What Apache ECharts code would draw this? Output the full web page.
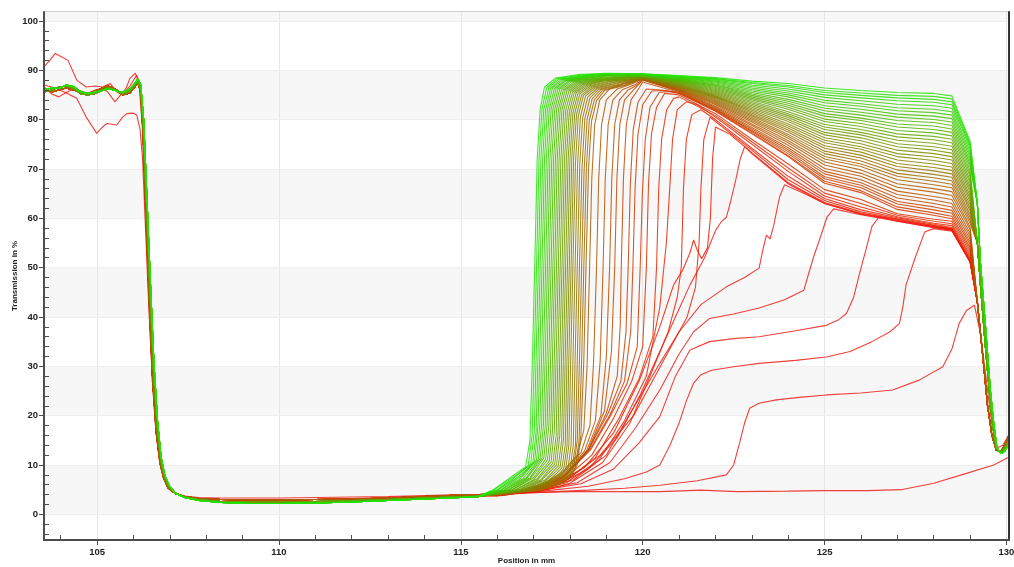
<!DOCTYPE html>
<html>
<head>
<meta charset="utf-8">
<title>Transmission profiles</title>
<script src="https://cdn.jsdelivr.net/npm/echarts@6.0.0/dist/echarts.min.js"></script>
<style>
  html, body { margin: 0; padding: 0; background: #fff; }
  #main { width: 1014px; height: 567px; }
</style>
</head>
<body>
<div id="main"></div>
<script>
// axis ticks / labels
var xLabels = [105, 110, 115, 120, 125, 130]
var xMinor = [104, 106, 107, 108, 109, 111, 112, 113, 114, 116, 117, 118, 119, 121, 122, 123, 124, 126, 127, 128, 129]
var yLabels = [0, 10, 20, 30, 40, 50, 60, 70, 80, 90, 100]
var yMinor = [-4, -2, 2, 4, 6, 8, 12, 14, 16, 18, 22, 24, 26, 28, 32, 34, 36, 38, 42, 44, 46, 48,
  52, 54, 56, 58, 62, 64, 66, 68, 72, 74, 76, 78, 82, 84, 86, 88, 92, 94, 96, 98]
var bands = [[0, 10], [20, 30], [40, 50], [60, 70], [80, 90], [100, 101.8]]

// shared left part of the profiles (plateau, edge, floor)
var leftG = [[103.54, 86.0], [103.75, 86.4], [103.95, 86.3], [104.15, 87.0], [104.35, 86.7], [104.55, 85.6], [104.75, 85.3], [104.95, 85.6], [105.15, 85.9], [105.3, 86.3], [105.5, 85.9], [105.7, 85.5], [105.9, 86.2], [106.02, 87.2], [106.12, 88.2], [106.2, 87.0], [106.28, 80], [106.36, 66], [106.46, 48], [106.56, 31], [106.66, 19], [106.76, 11.5], [106.86, 8.0], [106.98, 5.8], [107.15, 4.3], [107.4, 3.4], [107.8, 2.8], [108.4, 2.4], [109.2, 2.2], [110, 2.2], [111, 2.3], [112, 2.5], [113, 2.8], [114, 3.1], [115, 3.4]]
var leftM = [[103.54, 85.6], [103.75, 86.0], [103.95, 86.6], [104.15, 86.8], [104.35, 86.4], [104.55, 85.2], [104.75, 85.0], [104.95, 85.3], [105.15, 86.0], [105.3, 86.5], [105.5, 86.0], [105.7, 85.2], [105.9, 85.8], [106.02, 86.8], [106.12, 88.0], [106.2, 86.2], [106.27, 79], [106.35, 64], [106.45, 46], [106.55, 29], [106.65, 18], [106.75, 11], [106.85, 7.8], [106.97, 5.6], [107.15, 4.3], [107.4, 3.5], [107.8, 3.0], [108.4, 2.6], [109.2, 2.5], [110, 2.5], [111, 2.6], [112, 2.8], [113, 3.0], [114, 3.3], [115, 3.6]]
var leftR = [[103.54, 86.3], [103.75, 85.6], [103.95, 86.0], [104.15, 86.4], [104.35, 86.0], [104.55, 85.6], [104.75, 85.0], [104.95, 85.8], [105.15, 86.4], [105.3, 86.8], [105.5, 86.2], [105.7, 85.0], [105.9, 85.4], [106.02, 86.4], [106.12, 87.6], [106.2, 85.5], [106.26, 78], [106.34, 62], [106.43, 44], [106.53, 27], [106.63, 16.5], [106.73, 10.5], [106.83, 7.4], [106.95, 5.4], [107.15, 4.2], [107.4, 3.6], [107.8, 3.2], [108.4, 3.0], [109.2, 2.9], [110, 2.9], [111, 3.0], [112, 3.1], [113, 3.3], [114, 3.6], [115, 3.9]]
var leftO1 = [[103.54, 90.7], [103.7, 92.0], [103.85, 93.4], [104.03, 92.7], [104.2, 92.0], [104.44, 88.0], [104.7, 86.6], [104.95, 86.8], [105.15, 86.6], [105.36, 87.3], [105.55, 85.6], [105.7, 85.0], [105.9, 86.8], [106.09, 89.0], [106.18, 86], [106.25, 78], [106.33, 62], [106.42, 44], [106.52, 27], [106.62, 16.5], [106.72, 10.5], [106.82, 7.4], [106.95, 5.2], [107.15, 4.2], [107.4, 3.7], [107.8, 3.4], [108.4, 3.3], [109.2, 3.3], [110, 3.3], [111, 3.4], [112, 3.5], [113, 3.6], [114, 3.8], [115, 4.0]]
var leftO2 = [[103.54, 87.0], [103.8, 86.5], [104.1, 85.6], [104.44, 84.3], [104.7, 80.5], [104.99, 77.2], [105.15, 78.5], [105.27, 79.2], [105.54, 78.9], [105.7, 80.5], [105.82, 81.2], [106.0, 81.3], [106.09, 80.9], [106.18, 78], [106.25, 72], [106.33, 58], [106.42, 42], [106.52, 27], [106.62, 16.5], [106.72, 10.5], [106.82, 7.4], [106.95, 5.4], [107.15, 4.2], [107.4, 3.6], [107.8, 3.2], [108.4, 3.0], [109.2, 2.9], [110, 2.9], [111, 3.0], [112, 3.1], [113, 3.3], [114, 3.6], [115, 3.9]]
var leftO3 = [[103.54, 86.6], [103.75, 85.2], [103.95, 84.6], [104.15, 85.5], [104.35, 86.2], [104.55, 85.8], [104.75, 85.4], [104.95, 86.0], [105.15, 86.4], [105.3, 85.5], [105.49, 83.6], [105.65, 85.0], [105.8, 86.4], [105.9, 88.3], [106.05, 89.4], [106.15, 87.5], [106.24, 79], [106.32, 63], [106.42, 45], [106.52, 28], [106.62, 17], [106.72, 10.8], [106.82, 7.5], [106.95, 5.4], [107.15, 4.2], [107.4, 3.6], [107.8, 3.2], [108.4, 3.0], [109.2, 3.0], [110, 3.0], [111, 3.0], [112, 3.2], [113, 3.4], [114, 3.6], [115, 3.9]]

// rising flank of each profile in the fan, green (first) to red (last)
var fanRise = [
  [[115.5, 3.7], [115.9, 5.0], [116.2, 6.6], [116.5, 8.2], [116.78, 9.6], [116.9, 15], [116.97, 32], [117.03, 50], [117.1, 72], [117.18, 82], [117.3, 86.6], [117.6, 88.4], [118.2, 89.1], [119, 89.4]],
  [[115.5, 3.7], [115.9, 4.9], [116.3, 6.8], [116.6, 8.4], [116.85, 9.8], [116.96, 16], [117.02, 32], [117.08, 50], [117.15, 72], [117.23, 82], [117.36, 86.5], [117.65, 88.3], [118.3, 89.0], [119, 89.3]],
  [[115.5, 3.7], [116.0, 5.0], [116.4, 7.0], [116.7, 8.8], [116.92, 10.2], [117.02, 17], [117.07, 32], [117.13, 50], [117.2, 72], [117.28, 82], [117.42, 86.5], [117.7, 88.2], [118.4, 88.9], [119, 89.2]],
  [[115.5, 3.7], [116.0, 4.9], [116.5, 7.2], [116.8, 9.0], [116.98, 10.5], [117.07, 17], [117.12, 32], [117.18, 50], [117.25, 72], [117.33, 82], [117.47, 86.4], [117.75, 88.1], [118.5, 88.9], [119, 89.2]],
  [[115.5, 3.6], [116.1, 5.0], [116.6, 7.4], [116.9, 9.6], [117.03, 10.8], [117.12, 18], [117.17, 32], [117.23, 50], [117.3, 72], [117.38, 82], [117.52, 86.4], [117.8, 88.0], [118.5, 88.8], [119, 89.2]],
  [[115.5, 3.6], [116.1, 4.9], [116.6, 7.0], [116.95, 9.8], [117.08, 11.0], [117.17, 18], [117.22, 32], [117.28, 50], [117.35, 72], [117.43, 82], [117.57, 86.3], [117.85, 87.9], [118.6, 88.8], [119, 89.1]],
  [[115.5, 3.6], [116.2, 5.0], [116.7, 7.2], [117.0, 9.8], [117.13, 11.2], [117.22, 18], [117.27, 32], [117.33, 50], [117.4, 72], [117.48, 82], [117.62, 86.3], [117.9, 87.9], [118.6, 88.7], [119, 89.1]],
  [[115.5, 3.6], [116.2, 4.9], [116.8, 7.4], [117.05, 9.9], [117.18, 11.3], [117.27, 18], [117.32, 32], [117.38, 50], [117.45, 72], [117.53, 82], [117.67, 86.2], [117.95, 87.8], [118.7, 88.6], [119, 89.0]],
  [[115.5, 3.6], [116.3, 5.0], [116.8, 7.2], [117.1, 10.0], [117.23, 11.4], [117.32, 18], [117.37, 32], [117.43, 50], [117.5, 72], [117.58, 82], [117.72, 86.2], [118.0, 87.8], [118.7, 88.6], [119, 89.0]],
  [[115.5, 3.6], [116.3, 4.9], [116.9, 7.4], [117.15, 10.0], [117.28, 11.4], [117.37, 18], [117.42, 32], [117.48, 50], [117.55, 72], [117.63, 82], [117.77, 86.1], [118.05, 87.7], [118.8, 88.5], [119, 88.9]],
  [[115.5, 3.6], [116.4, 5.0], [116.9, 7.2], [117.2, 9.8], [117.33, 11.2], [117.42, 18], [117.47, 32], [117.53, 50], [117.6, 72], [117.68, 82], [117.82, 86.0], [118.1, 87.6], [118.8, 88.4], [119, 88.8]],
  [[115.5, 3.6], [116.4, 4.9], [117.0, 7.4], [117.25, 9.8], [117.38, 11.0], [117.47, 17], [117.52, 32], [117.58, 50], [117.65, 72], [117.73, 82], [117.87, 86.0], [118.15, 87.5], [118.9, 88.4], [119.2, 88.7]],
  [[115.5, 3.6], [116.5, 5.0], [117.0, 7.0], [117.3, 9.6], [117.43, 10.8], [117.52, 17], [117.57, 32], [117.63, 50], [117.7, 72], [117.78, 82], [117.92, 85.9], [118.2, 87.4], [119, 88.4]],
  [[115.5, 3.6], [116.5, 4.9], [117.1, 7.2], [117.35, 9.5], [117.48, 10.6], [117.57, 17], [117.62, 32], [117.68, 50], [117.75, 72], [117.83, 82], [117.97, 85.8], [118.25, 87.3], [119, 88.3]],
  [[115.5, 3.6], [116.6, 5.0], [117.1, 6.9], [117.4, 9.3], [117.53, 10.4], [117.62, 16], [117.67, 32], [117.73, 50], [117.8, 72], [117.88, 81.8], [118.02, 85.7], [118.3, 87.2], [119, 88.2]],
  [[115.5, 3.6], [116.6, 4.9], [117.2, 7.0], [117.45, 9.2], [117.58, 10.2], [117.67, 16], [117.72, 32], [117.78, 50], [117.85, 72], [117.93, 81.6], [118.07, 85.6], [118.35, 87.1], [119, 88.1]],
  [[115.5, 3.6], [116.7, 5.0], [117.2, 6.8], [117.5, 9.0], [117.63, 10.0], [117.72, 16], [117.77, 32], [117.83, 50], [117.9, 72], [117.98, 81.5], [118.12, 85.5], [118.4, 87.0], [119, 88.0]],
  [[115.5, 3.6], [116.7, 4.9], [117.3, 6.9], [117.55, 8.8], [117.68, 9.8], [117.77, 15], [117.82, 32], [117.88, 50], [117.95, 72], [118.03, 81.4], [118.17, 85.4], [118.45, 86.9], [119, 87.9]],
  [[115.5, 3.6], [116.8, 5.0], [117.3, 6.6], [117.6, 8.6], [117.73, 9.6], [117.82, 15], [117.87, 32], [117.93, 50], [118.0, 72], [118.08, 81.3], [118.22, 85.3], [118.5, 86.8], [119.1, 87.8]],
  [[115.5, 3.6], [116.8, 4.9], [117.4, 6.8], [117.65, 8.4], [117.78, 9.4], [117.87, 14], [117.92, 32], [117.98, 50], [118.05, 72], [118.13, 81.2], [118.27, 85.2], [118.55, 86.7], [119.1, 87.7]],
  [[115.5, 3.7], [116.9, 5.0], [117.4, 6.6], [117.7, 8.2], [117.83, 9.2], [117.92, 14], [117.97, 32], [118.03, 50], [118.1, 72], [118.18, 81.0], [118.32, 85.0], [118.6, 86.6], [119.2, 87.6]],
  [[115.5, 3.7], [116.9, 4.9], [117.5, 6.6], [117.75, 8.0], [117.88, 9.0], [117.97, 14], [118.02, 31], [118.08, 50], [118.15, 71], [118.23, 80.8], [118.37, 84.9], [118.65, 86.5], [119.2, 87.5]],
  [[115.5, 3.7], [117.0, 5.0], [117.5, 6.4], [117.8, 7.8], [117.94, 9.0], [118.03, 14], [118.08, 31], [118.14, 50], [118.21, 71], [118.29, 80.6], [118.43, 84.8], [118.7, 86.4], [119.3, 87.4]],
  [[115.5, 3.7], [117.0, 4.9], [117.6, 6.4], [117.85, 7.6], [118.0, 9.0], [118.09, 14], [118.14, 31], [118.2, 50], [118.27, 71], [118.35, 80.4], [118.49, 84.6], [118.75, 86.3], [119.3, 87.3]],
  [[115.5, 3.7], [117.1, 5.0], [117.6, 6.2], [117.9, 7.6], [118.05, 9.2], [118.15, 14], [118.2, 31], [118.26, 50], [118.33, 70], [118.41, 80.2], [118.55, 84.4], [118.8, 86.2], [119.4, 87.2]],
  [[115.5, 3.7], [117.1, 4.9], [117.7, 6.2], [117.95, 7.6], [118.1, 9.4], [118.2, 15], [118.26, 31], [118.32, 50], [118.39, 70], [118.47, 80.0], [118.61, 84.2], [118.85, 86.1], [119.4, 87.1]],
  [[115.5, 3.7], [117.2, 5.0], [117.7, 6.2], [118.0, 7.8], [118.15, 9.6], [118.25, 15], [118.32, 31], [118.38, 50], [118.45, 70], [118.53, 79.8], [118.67, 84.0], [118.9, 86.0], [119.5, 87.0]],
  [[115.5, 3.7], [117.2, 4.9], [117.8, 6.4], [118.05, 8.0], [118.2, 10.0], [118.3, 16], [118.38, 31], [118.44, 50], [118.51, 70], [118.59, 79.6], [118.73, 83.8], [118.95, 85.9], [119.5, 86.9]],
  [[115.5, 3.8], [116.5, 4.6], [117.3, 6.3], [117.8, 8.6], [118.2, 12], [118.38, 17], [118.47, 30], [118.54, 50], [118.6, 68], [118.68, 79], [118.82, 84], [119.1, 86.3], [119.5, 87.3]],
  [[115.5, 3.8], [116.5, 4.5], [117.3, 6.1], [117.85, 8.6], [118.3, 12.5], [118.55, 18], [118.65, 31], [118.73, 50], [118.79, 68], [118.87, 79], [119.0, 84], [119.3, 86.2], [119.7, 87.2]],
  [[115.5, 3.8], [116.5, 4.4], [117.3, 6.0], [117.9, 8.5], [118.4, 12.8], [118.7, 19], [118.83, 31], [118.91, 50], [118.97, 68], [119.05, 79], [119.18, 84], [119.45, 86.1], [119.8, 87.1]],
  [[115.5, 3.8], [116.4, 4.3], [117.3, 5.9], [117.9, 8.2], [118.45, 12.8], [118.85, 20], [119.0, 32], [119.09, 50], [119.15, 68], [119.23, 79], [119.36, 84], [119.6, 86.0], [119.85, 87.0]],
  [[115.5, 3.8], [116.4, 4.2], [117.2, 5.6], [117.9, 8.0], [118.5, 13], [118.95, 21], [119.14, 33], [119.23, 50], [119.29, 68], [119.37, 79], [119.5, 84], [119.75, 86.0]],
  [[115.5, 3.9], [116.3, 4.1], [117.2, 5.5], [117.85, 7.7], [118.5, 13], [119.0, 20.5], [119.3, 28], [119.38, 38], [119.41, 50], [119.47, 68], [119.55, 79], [119.68, 84], [119.9, 86.4]],
  [[115.5, 3.9], [116.3, 4.0], [117.1, 5.3], [117.8, 7.4], [118.5, 13], [119.05, 20.5], [119.4, 27], [119.54, 37], [119.6, 50], [119.66, 67], [119.74, 78], [119.87, 83.5], [120.1, 86.2], [120.5, 86.0]],
  [[115.5, 3.9], [116.2, 4.0], [117.1, 5.2], [117.8, 7.2], [118.55, 13.2], [119.1, 20.2], [119.5, 27], [119.67, 37], [119.73, 50], [119.79, 66], [119.87, 77], [120.0, 83], [120.25, 85.8], [120.6, 85.9]],
  [[115.5, 3.8], [116.1, 3.9], [117.0, 5.0], [117.73, 7.0], [118.56, 13], [119.1, 19.8], [119.57, 26.5], [119.85, 34], [119.93, 50], [119.99, 65], [120.07, 76], [120.2, 82.5], [120.45, 85.5], [120.7, 85.7]],
  [[115.5, 3.8], [116.1, 3.8], [117.0, 4.9], [117.8, 6.8], [118.6, 12], [119.2, 19.5], [119.7, 27], [120.0, 34], [120.1, 50], [120.16, 67], [120.24, 77], [120.38, 82.5], [120.6, 85.3]],
  [[115.5, 3.8], [116.0, 3.8], [117.0, 4.8], [117.85, 6.6], [118.7, 11.5], [119.35, 19.5], [119.9, 27.5], [120.28, 36], [120.38, 50], [120.44, 66], [120.52, 76], [120.66, 82], [120.85, 84.3]],
  [[115.5, 3.8], [116.0, 3.8], [117.0, 4.7], [117.9, 6.4], [118.8, 11], [119.5, 19], [120.1, 28], [120.47, 42], [120.65, 55], [120.74, 65.7], [120.82, 76], [120.95, 82], [121.2, 83.6], [121.5, 83.0]],
  [[115.5, 3.8], [116.0, 3.8], [117.2, 4.7], [118.0, 6.3], [118.9, 10.5], [119.65, 18.5], [120.2, 28], [120.7, 37], [120.95, 44], [121.06, 50], [121.12, 66], [121.2, 76], [121.35, 81], [121.6, 82]],
  [[115.5, 3.8], [116.63, 4.6], [117.92, 7.0], [118.83, 12], [119.75, 20], [120.48, 29.9], [121.22, 40], [121.45, 46], [121.55, 55], [121.6, 66], [121.68, 76], [121.85, 80.5]],
  [[115.5, 3.9], [116.5, 4.4], [117.5, 5.8], [118.4, 9.5], [119.2, 16.5], [119.9, 27], [120.47, 38], [120.85, 46.5], [121.1, 49.5], [121.3, 53], [121.4, 55.6], [121.5, 53.5], [121.62, 51.8], [121.78, 54], [121.86, 60], [121.92, 72], [122.0, 78.5], [122.4, 77]]
]

// plateau of each fan profile, read at these positions (null: still rising)
var tailX = [120, 121, 122, 123, 124, 125, 126, 127, 128, 128.5, 129]
var fanTail = [
  [89.3, 88.9, 88.5, 87.8, 87.3, 86.4, 85.9, 85.5, 85.3, 84.8, 75.6],
  [89.3, 88.8, 88.3, 87.5, 86.9, 85.9, 85.4, 84.9, 84.7, 84.2, 75.2],
  [89.2, 88.7, 88.2, 87.3, 86.6, 85.5, 84.9, 84.4, 84.1, 83.6, 74.7],
  [89.2, 88.6, 88.0, 87.0, 86.2, 85.0, 84.4, 83.8, 83.5, 83.0, 74.2],
  [89.2, 88.5, 87.8, 86.7, 85.8, 84.5, 83.8, 83.1, 82.8, 82.3, 73.5],
  [89.1, 88.4, 87.6, 86.4, 85.4, 83.9, 83.2, 82.4, 82.1, 81.6, 72.9],
  [89.1, 88.3, 87.4, 86.1, 85.0, 83.4, 82.7, 81.8, 81.4, 80.9, 72.3],
  [89.0, 88.2, 87.2, 85.8, 84.6, 82.8, 82.1, 81.1, 80.7, 80.2, 71.6],
  [89.0, 88.1, 87.0, 85.5, 84.1, 82.3, 81.5, 80.5, 80.0, 79.5, 71.0],
  [89.0, 88.0, 86.9, 85.2, 83.7, 81.8, 80.9, 79.8, 79.4, 78.8, 70.4],
  [88.9, 87.9, 86.7, 84.9, 83.3, 81.2, 80.3, 79.1, 78.7, 78.1, 69.7],
  [88.9, 87.8, 86.5, 84.6, 82.9, 80.7, 79.8, 78.5, 78.0, 77.4, 69.1],
  [88.9, 87.7, 86.3, 84.3, 82.5, 80.1, 79.2, 77.8, 77.3, 76.7, 68.5],
  [88.8, 87.6, 86.1, 84.0, 82.1, 79.6, 78.6, 77.1, 76.6, 76.0, 67.8],
  [88.8, 87.5, 85.9, 83.7, 81.6, 79.0, 78.0, 76.5, 75.9, 75.3, 67.2],
  [88.7, 87.4, 85.7, 83.4, 81.2, 78.5, 77.4, 75.8, 75.2, 74.6, 66.5],
  [88.7, 87.3, 85.5, 83.1, 80.8, 78.0, 76.9, 75.1, 74.5, 73.9, 65.9],
  [88.7, 87.2, 85.3, 82.8, 80.4, 77.4, 76.3, 74.5, 73.8, 73.2, 65.3],
  [88.6, 87.1, 85.1, 82.5, 80.0, 76.9, 75.7, 73.8, 73.1, 72.5, 64.6],
  [88.6, 87.0, 84.9, 82.2, 79.6, 76.3, 75.1, 73.1, 72.4, 71.8, 64.0],
  [88.5, 86.9, 84.7, 81.9, 79.1, 75.8, 74.5, 72.5, 71.7, 71.1, 63.4],
  [88.5, 86.8, 84.6, 81.6, 78.7, 75.3, 74.0, 71.8, 71.0, 70.4, 62.7],
  [88.5, 86.7, 84.4, 81.3, 78.3, 74.7, 73.4, 71.1, 70.3, 69.7, 62.1],
  [88.4, 86.6, 84.2, 81.0, 77.9, 74.2, 72.8, 70.5, 69.6, 69.0, 61.5],
  [88.4, 86.5, 84.0, 80.7, 77.5, 73.6, 72.2, 69.8, 68.9, 68.3, 60.8],
  [88.3, 86.4, 83.8, 80.4, 77.0, 73.1, 71.6, 69.1, 68.2, 67.6, 60.2],
  [88.3, 86.3, 83.6, 80.1, 76.6, 72.5, 71.0, 68.5, 67.5, 66.9, 59.6],
  [88.3, 86.2, 83.4, 79.8, 76.2, 72.0, 70.5, 67.8, 66.8, 66.2, 59.0],
  [88.2, 86.1, 83.2, 79.5, 75.7, 71.4, 69.8, 67.0, 66.0, 65.4, 58.3],
  [88.2, 86.0, 83.0, 79.1, 75.3, 70.8, 69.1, 66.3, 65.3, 64.6, 57.7],
  [88.1, 85.9, 82.7, 78.8, 74.8, 70.1, 68.5, 65.5, 64.4, 63.8, 57.0],
  [88.1, 85.8, 82.5, 78.4, 74.3, 69.5, 67.8, 64.8, 63.7, 63.0, 56.4],
  [88.0, 85.7, 82.3, 78.1, 73.9, 69.0, 67.2, 64.1, 63.0, 62.3, 55.8],
  [87.6, 85.5, 82.1, 77.8, 73.5, 68.4, 66.7, 63.4, 62.3, 61.6, 55.2],
  [null, 85.5, 82.0, 77.6, 73.1, 68.0, 66.2, 62.9, 61.7, 61.0, 54.7],
  [null, 85.4, 81.8, 77.3, 72.7, 67.5, 65.6, 62.3, 61.1, 60.4, 54.1],
  [null, 85.3, 81.7, 77.1, 72.5, 67.1, 65.2, 61.8, 60.6, 59.9, 53.6],
  [null, 85.0, 81.2, 76.0, 71.0, 65.8, 63.8, 60.9, 59.8, 59.4, 53.1],
  [null, 84.6, 80.8, 75.5, 70.2, 65.1, 63.0, 60.6, 59.4, 58.9, 52.6],
  [null, null, 80.5, 75.0, 69.5, 64.5, 62.3, 60.3, 59.0, 58.5, 52.2],
  [null, null, 80.0, 74.2, 68.5, 64.0, 61.7, 60.1, 58.8, 58.1, 51.8],
  [null, null, 79.6, 73.8, 67.8, 63.6, 61.3, 59.9, 58.6, 57.9, 51.5],
  [null, null, null, 73.3, 67.2, 63.2, 61.0, 59.8, 58.5, 57.8, 51.3]
]

// falling edge at the end of the slot
var dropG = [[129.2, 63], [129.28, 51.5], [129.42, 38.5], [129.56, 25], [129.65, 18.5], [129.74, 13.5], [129.85, 12.3], [129.95, 12.8], [130.07, 14.2]]
var dropO = [[129.2, 55], [129.3, 45], [129.42, 34], [129.54, 24], [129.63, 17.5], [129.72, 13.5], [129.84, 12.5], [129.95, 13.3], [130.07, 15]]
var dropR = [[129.2, 43], [129.35, 32], [129.48, 22], [129.6, 16], [129.72, 13], [129.85, 12.8], [129.95, 14], [130.07, 16]]

// late red profiles with steps
var red1 = [[115.5, 4.0], [116.5, 4.3], [118, 4.6], [120.47, 4.6], [121.6, 4.9], [122.6, 4.6], [124, 4.7], [125, 4.8], [126.2, 4.8], [127.1, 5.0], [128, 6.3], [128.9, 8.3], [129.65, 10], [130.07, 11.6]]
var red2 = [[115.5, 4.0], [117, 4.4], [118.5, 4.9], [119.5, 5.3], [120.47, 5.9], [121.5, 6.8], [122.3, 8], [122.5, 10], [122.66, 14.4], [122.8, 18.5], [122.94, 21.5], [123.2, 22.5], [123.67, 23.2], [124.3, 23.7], [125.05, 24.2], [126, 24.6], [126.87, 25.2], [127.6, 27.2], [128.25, 29.9], [128.5, 33.5], [128.7, 38.7], [128.9, 41.3], [129.12, 42.4], [129.3, 36], [129.45, 27], [129.6, 18], [129.75, 13.5], [129.9, 14], [130.07, 16.2]]
var red3 = [[115.5, 4.0], [117, 4.5], [118.5, 5.7], [119.5, 7.2], [120.1, 8.6], [120.47, 10], [120.75, 14], [121.0, 18.5], [121.2, 23], [121.4, 26.6], [121.6, 28.3], [121.9, 29.2], [122.5, 29.9], [123.2, 30.6], [124.2, 31.2], [125.05, 31.9], [125.7, 33], [126.3, 35], [126.8, 37], [127.06, 38.7], [127.15, 42], [127.24, 46.5], [127.5, 52.2], [127.75, 57.2], [128.0, 57.9], [128.5, 57.4], [129, 51.1]]
var red4 = [[115.5, 4.0], [117, 4.6], [118.3, 6.2], [119.2, 9.2], [119.9, 14.5], [120.47, 19.8], [120.9, 28], [121.3, 33.3], [121.84, 35], [122.5, 35.6], [123.2, 36], [124.2, 37.2], [125.05, 38.3], [125.4, 39.5], [125.6, 40.7], [125.8, 44], [125.96, 48.8], [126.15, 54], [126.3, 58.3], [126.5, 60.3], [127, 59.4], [128, 58.1], [128.5, 57.6], [129, 51.2]]
var red5 = [[115.5, 4.0], [117, 4.7], [118.2, 6.4], [119.1, 10.5], [119.8, 17.5], [120.47, 25.2], [121.0, 32.5], [121.4, 37], [121.84, 39.7], [122.5, 40.6], [123.2, 41.8], [123.9, 43.5], [124.43, 45.4], [124.55, 48.5], [124.7, 52.2], [124.9, 56.5], [125.07, 60.3], [125.25, 61.9], [126, 60.7], [127, 59.4], [128, 58.2], [128.5, 57.6], [129, 51.2]]
var red6 = [[115.5, 4.0], [117, 4.8], [118.1, 7], [119.0, 12], [119.7, 21], [120.47, 30.6], [121.0, 37], [121.6, 42.5], [122.3, 46.1], [122.8, 48], [123.2, 49.9], [123.3, 53.5], [123.4, 56.6], [123.5, 55.8], [123.6, 58.5], [123.76, 64.3], [123.9, 66.8], [124.5, 64.8], [125, 63.0], [126, 60.9], [127, 59.6], [128, 58.3], [128.5, 57.7], [129, 51.3]]
var red7 = [[115.5, 3.9], [116.6, 4.4], [117.6, 5.8], [118.5, 9.2], [119.3, 15.5], [119.95, 24.5], [120.47, 33], [120.9, 40], [121.3, 46.5], [121.7, 52], [122.0, 57.5], [122.15, 59.2], [122.3, 60.2], [122.42, 63.5], [122.55, 67.5], [122.68, 72], [122.8, 74.5], [123, 73.1], [124, 67.0], [125, 63.0], [126, 60.8], [127, 59.6], [128, 58.3], [128.5, 57.7], [129, 51.3]]

var main = document.getElementById('main')
var chart = echarts.init(main, null, { renderer: 'canvas' })

var FONT = 'Liberation Sans'
var AXIS = '#4d4d4d'

function tailPairs (ys, afterX) {
  var out = []
  for (var i = 0; i < tailX.length; i++) {
    if (ys[i] !== null && tailX[i] > afterX) out.push([tailX[i], ys[i]])
  }
  return out
}

function fanColor (k) {
  var t = k / (fanRise.length - 1)
  return 'rgb(' + Math.round(30 + 215 * t) + ',' + Math.round(230 - 205 * t) + ',0)'
}

function lineSeries (data, color) {
  return {
    type: 'line',
    data: data,
    symbol: 'none',
    showSymbol: false,
    silent: true,
    animation: false,
    z: 2,
    lineStyle: { color: color, width: 1.1, opacity: 0.85 }
  }
}

var series = []

// background bands and grid lines, kept under the profiles
series.push({
  type: 'line',
  data: [],
  silent: true,
  z: 1,
  markArea: {
    silent: true,
    z: 0,
    itemStyle: { color: '#f7f7f7' },
    data: bands.map(function (b) { return [{ yAxis: b[0] }, { yAxis: b[1] }] })
  },
  markLine: {
    silent: true,
    z: 1,
    animation: false,
    symbol: ['none', 'none'],
    label: { show: false },
    lineStyle: { color: '#e6e6e6', width: 1, type: 'solid' },
    data: xLabels.map(function (v) { return { xAxis: v } })
      .concat(yLabels.map(function (v) { return { yAxis: v, lineStyle: { color: '#efefef' } } }))
  }
})

// the separate late red profiles underneath
var redRed = 'rgb(240,30,25)'
series.push(lineSeries(leftO1.concat(red1), redRed))
series.push(lineSeries(leftO2.concat(red2), redRed))
series.push(lineSeries(leftO3.concat(red3, dropR), redRed))
series.push(lineSeries(leftR.concat(red4, dropR), redRed))
series.push(lineSeries(leftR.concat(red5, dropR), redRed))
series.push(lineSeries(leftR.concat(red6, dropR), redRed))
series.push(lineSeries(leftR.concat(red7, dropR), redRed))

// fan: red first so the green ones end on top
for (var k = fanRise.length - 1; k >= 0; k--) {
  var rise = fanRise[k]
  var left = k < 14 ? leftG : (k < 28 ? leftM : leftR)
  var drop = k < 10 ? dropG : (k < 28 ? dropO : dropR)
  var lastX = rise[rise.length - 1][0]
  series.push(lineSeries(left.concat(rise, tailPairs(fanTail[k], lastX), drop), fanColor(k)))
}

var labelStyle = { fontFamily: FONT, fontSize: 9.5, fontWeight: 'bold', color: '#222' }
var nameStyle = { fontFamily: FONT, fontSize: 8, fontWeight: 'bold', color: '#222' }

var option = {
  animation: false,
  backgroundColor: '#fff',
  grid: {
    left: 44, right: 5, top: 12, bottom: 27,
    show: true, borderColor: '#a0a0a0', borderWidth: 1, backgroundColor: '#fff',
    containLabel: false, outerBoundsMode: 'none'
  },
  xAxis: [{
    type: 'value', min: 103.54, max: 130.07, position: 'bottom', z: 10,
    axisLine: { show: true, onZero: false, lineStyle: { color: AXIS, width: 2 } },
    axisTick: { show: true, customValues: xLabels, length: 5, lineStyle: { color: AXIS } },
    axisLabel: Object.assign({ customValues: xLabels, margin: 7, hideOverlap: false }, labelStyle),
    splitLine: { show: false },
    name: 'Position in mm', nameLocation: 'middle', nameGap: 17, nameMoveOverlap: false, nameTextStyle: nameStyle
  }, {
    type: 'value', min: 103.54, max: 130.07, position: 'bottom', z: 10,
    axisLine: { show: false, onZero: false },
    axisTick: { show: true, inside: true, customValues: xMinor, length: 5, lineStyle: { color: AXIS } },
    axisLabel: { show: false },
    splitLine: { show: false }
  }],
  yAxis: [{
    type: 'value', min: -5.2, max: 101.8, position: 'left', z: 10,
    axisLine: { show: true, onZero: false, lineStyle: { color: AXIS, width: 2 } },
    axisTick: { show: true, customValues: yLabels, length: 5, lineStyle: { color: AXIS } },
    axisLabel: Object.assign({ customValues: yLabels, margin: 6, hideOverlap: false }, labelStyle),
    splitLine: { show: false },
    name: 'Transmission in %', nameLocation: 'middle', nameGap: 25, nameRotate: 90, nameMoveOverlap: false, nameTextStyle: nameStyle
  }, {
    type: 'value', min: -5.2, max: 101.8, position: 'left', z: 10,
    axisLine: { show: false, onZero: false },
    axisTick: { show: true, inside: true, customValues: yMinor, length: 5, lineStyle: { color: AXIS } },
    axisLabel: { show: false },
    splitLine: { show: false }
  }, {
    type: 'value', min: -5.2, max: 101.8, position: 'right', z: 10,
    axisLine: { show: true, onZero: false, lineStyle: { color: '#333', width: 2 } },
    axisTick: { show: false },
    axisLabel: { show: false },
    splitLine: { show: false }
  }],
  series: series
}

chart.setOption(option)
</script>
</body>
</html>
